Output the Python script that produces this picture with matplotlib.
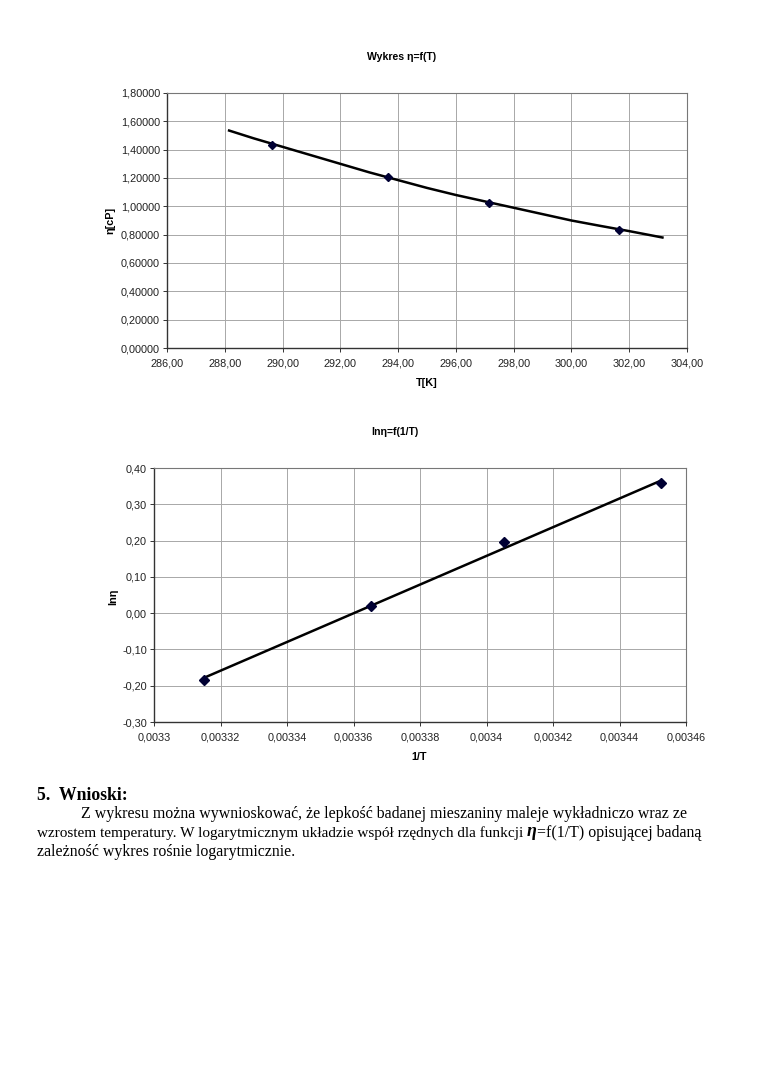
import matplotlib
matplotlib.use("Agg")
import matplotlib.pyplot as plt
from matplotlib.ticker import FuncFormatter, MultipleLocator

# dane pomiarowe
T = [289.65, 293.65, 297.15, 301.65]
eta = [1.43, 1.21, 1.02, 0.835]
# linia trendu
T_trend = [288.15, 289.0, 290.0, 291.0, 292.0, 293.0, 294.0, 295.0, 296.0,
           297.0, 298.0, 299.0, 300.0, 301.0, 302.0, 303.15]
eta_trend = [1.535, 1.48, 1.42, 1.36, 1.30, 1.24, 1.185, 1.13, 1.08,
             1.035, 0.99, 0.945, 0.90, 0.862, 0.825, 0.78]

inv_T = [0.0033151, 0.0033653, 0.0034054, 0.0034524]
ln_eta = [-0.185, 0.020, 0.197, 0.358]
inv_T_fit = [0.0033151, 0.0034524]
ln_eta_fit = [-0.178, 0.365]

W, H = 760, 1075

def px(x, y):
    return x / W, 1 - y / H

def comma(fmt):
    return FuncFormatter(lambda v, p: (fmt % v).replace(".", ","))

def general(v, p):
    s = ("%.5f" % v).rstrip("0").rstrip(".")
    return s.replace(".", ",")

def styl(ax):
    ax.grid(True, color="#a8a8a8", lw=0.7)
    ax.set_axisbelow(True)
    for k in ["top", "right"]:
        ax.spines[k].set_color("#777777")
        ax.spines[k].set_linewidth(0.8)
    for k in ["left", "bottom"]:
        ax.spines[k].set_color("#333333")
        ax.spines[k].set_linewidth(1.0)
    ax.tick_params(labelsize=7.8, length=3, width=0.7, color="#333333",
                   pad=2, labelcolor="#222222")
    ax.tick_params(axis="x", pad=4.5)

plt.rcParams["font.family"] = ["Liberation Sans", "DejaVu Sans"]

fig = plt.figure(figsize=(W / 100, H / 100), dpi=100)
fig.patch.set_facecolor("white")

# wykres 1
ax1 = fig.add_axes([167 / W, 1 - 348 / H, 520 / W, 255 / H])
styl(ax1)
ax1.plot(T_trend, eta_trend, color="black", lw=1.8, zorder=3)
ax1.plot(T, eta, "D", color="#000033", ms=4.5, zorder=4)
ax1.set_xlim(286, 304)
ax1.set_ylim(0, 1.8)
ax1.xaxis.set_major_locator(MultipleLocator(2))
ax1.yaxis.set_major_locator(MultipleLocator(0.2))
ax1.xaxis.set_major_formatter(comma("%.2f"))
ax1.yaxis.set_major_formatter(comma("%.5f"))
fig.text(*px(402, 57), "Wykres η=f(T)", ha="center", va="center",
         fontsize=7.6, fontweight="bold")
fig.text(*px(427, 383), "T[K]", ha="center", va="center", fontsize=7.8,
         fontweight="bold")
fig.text(*px(110, 220), "η[cP]", ha="center", va="center", fontsize=7.8,
         fontweight="bold", rotation=90)

# wykres 2
ax2 = fig.add_axes([154 / W, 1 - 722 / H, 532 / W, 254 / H])
styl(ax2)
ax2.plot(inv_T_fit, ln_eta_fit, color="black", lw=1.8, zorder=3)
ax2.plot(inv_T, ln_eta, "D", color="#000033", ms=5.5, zorder=4)
ax2.set_xlim(0.0033, 0.00346)
ax2.set_ylim(-0.3, 0.4)
ax2.xaxis.set_major_locator(MultipleLocator(0.00002))
ax2.yaxis.set_major_locator(MultipleLocator(0.1))
ax2.xaxis.set_major_formatter(FuncFormatter(general))
ax2.yaxis.set_major_formatter(comma("%.2f"))
fig.text(*px(395, 432), "lnη=f(1/T)", ha="center", va="center",
         fontsize=7.6, fontweight="bold")
fig.text(*px(419, 757), "1/T", ha="center", va="center", fontsize=7.8,
         fontweight="bold")
fig.text(*px(113, 597), "lnη", ha="center", va="center", fontsize=7.8,
         fontweight="bold", rotation=90)

# wnioski
serif = ["Liberation Serif", "DejaVu Serif"]
fig.text(*px(37, 795), "5.  Wnioski:", ha="left", va="center", fontsize=12.8,
         fontweight="bold", family=serif)
fig.text(*px(81, 814), "Z wykresu można wywnioskować, że lepkość badanej "
         "mieszaniny maleje wykładniczo wraz ze", ha="left", va="center",
         fontsize=11.4, family=serif)
fig.text(*px(37, 833), "wzrostem temperatury. W logarytmicznym układzie "
         "współ rzędnych dla funkcji", ha="left", va="center",
         fontsize=10.95, family=serif)
fig.text(*px(527, 831), "η", ha="left", va="center", fontsize=13,
         fontweight="bold", style="italic", family=serif)
fig.text(*px(537, 833), "=f(1/T) opisującej badaną", ha="left", va="center",
         fontsize=11.4, family=serif)
fig.text(*px(37, 852), "zależność wykres rośnie logarytmicznie.", ha="left",
         va="center", fontsize=11.4, family=serif)

fig.savefig("out.png", dpi=100, facecolor="white")
